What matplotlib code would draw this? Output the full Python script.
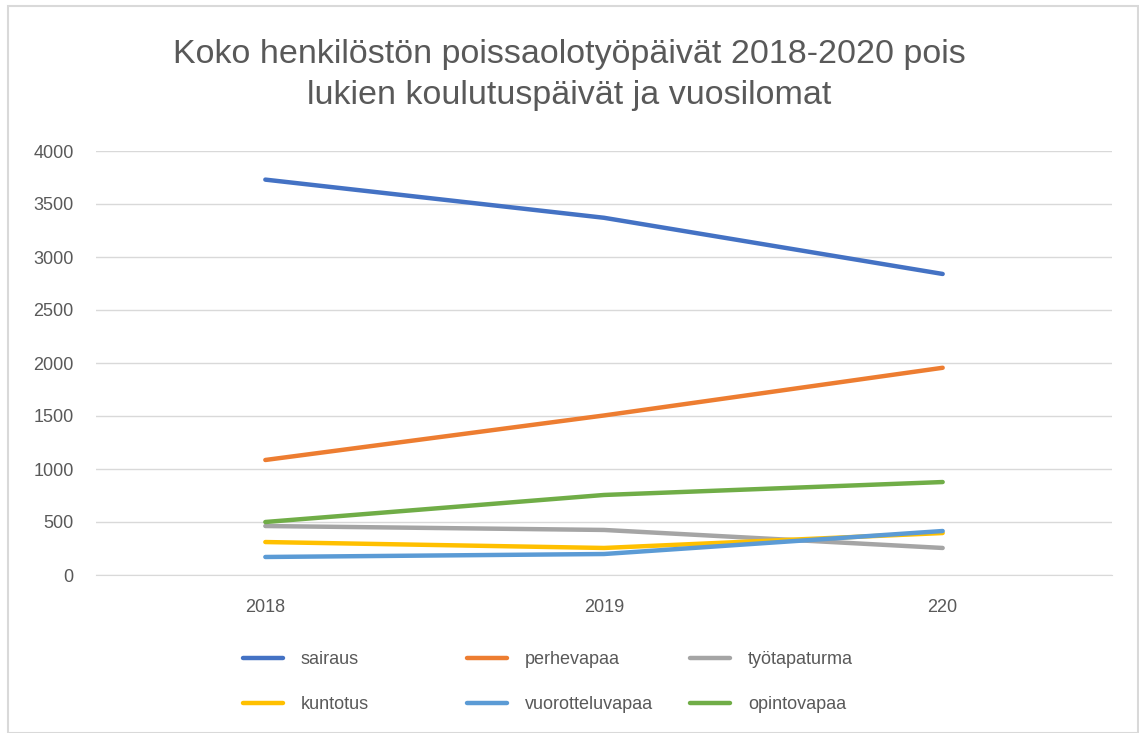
import matplotlib
matplotlib.use("Agg")
import matplotlib.pyplot as plt
from matplotlib.patches import Rectangle

plt.rcParams['font.family'] = ['Liberation Sans', 'DejaVu Sans']

years = ["2018", "2019", "220"]
sairaus = [3730, 3370, 2840]
perhevapaa = [1085, 1505, 1955]
tyotapaturma = [462, 425, 255]
kuntotus = [311, 255, 396]
vuorotteluvapaa = [170, 198, 415]
opintovapaa = [500, 755, 877]

series = [
    ("sairaus", sairaus, "#4472C4"),
    ("perhevapaa", perhevapaa, "#ED7D31"),
    ("työtapaturma", tyotapaturma, "#A5A5A5"),
    ("kuntotus", kuntotus, "#FFC000"),
    ("vuorotteluvapaa", vuorotteluvapaa, "#5B9BD5"),
    ("opintovapaa", opintovapaa, "#70AD47"),
]

W, H = 1139, 733
fig = plt.figure(figsize=(W / 100, H / 100), dpi=100)
fig.patch.set_facecolor("white")
fig.add_artist(Rectangle((8 / W, 0), (W - 9) / W, (H - 6) / H, transform=fig.transFigure,
                         fill=False, edgecolor="#D9D9D9", linewidth=1.5))

left, right, top, bottom = 96, 1112, 151, 575
ax = fig.add_axes([left / W, 1 - bottom / H, (right - left) / W, (bottom - top) / H])
x = range(len(years))
handles = []
for name, vals, col in series:
    h, = ax.plot(x, vals, color=col, linewidth=3.2, solid_capstyle="round", label=name)
    handles.append(h)

ax.set_xlim(-0.5, 2.5)
ax.set_ylim(0, 4000)
ax.set_yticks(range(0, 4001, 500))
ax.set_xticks(list(x))
ax.set_xticklabels(years)
ax.grid(axis="y", color="#D9D9D9", linewidth=1)
ax.set_axisbelow(True)
for s in ["top", "right", "left"]:
    ax.spines[s].set_visible(False)
ax.spines["bottom"].set_color("#D9D9D9")
ax.tick_params(axis="both", length=0, colors="#595959", labelsize=13)
ax.tick_params(axis="y", pad=16)
ax.tick_params(axis="x", pad=17)

fig.text(0.5, 1 - 75 / H, "Koko henkilöstön poissaolotyöpäivät 2018-2020 pois\nlukien koulutuspäivät ja vuosilomat",
         ha="center", va="center", fontsize=24.5, color="#595959", linespacing=1.45)

# legend: three columns, row-major order as in the reference
col_x = [243, 467, 690]
cols = [[0, 3], [1, 4], [2, 5]]
for cx, idxs in zip(col_x, cols):
    leg = fig.legend([handles[i] for i in idxs], [series[i][0] for i in idxs],
                     loc="upper left", bbox_to_anchor=(cx / W, 1 - 651 / H),
                     frameon=False, fontsize=13, handlelength=2.2, handletextpad=1.0,
                     borderpad=0, borderaxespad=0, labelspacing=1.56, labelcolor="#595959")

fig.savefig("out.png", dpi=100, facecolor="white")
